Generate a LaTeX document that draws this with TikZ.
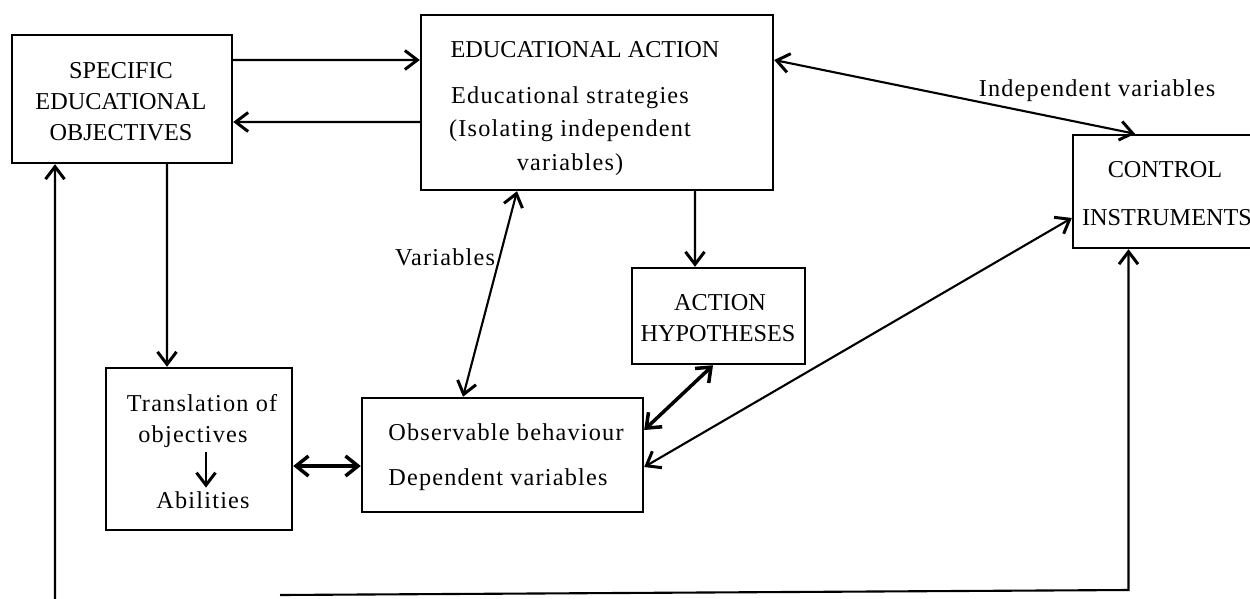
\documentclass[tikz,border=0pt]{standalone}
\usepackage{fontspec}
\setmainfont{Liberation Serif}
\newfontfamily\spaced{Liberation Serif}[LetterSpace=5]
\usetikzlibrary{arrows.meta}
\begin{document}
\begin{tikzpicture}[x=0.02cm,y=-0.02cm,
  font=\fontsize{13.8}{17.6}\selectfont,
  box/.style={draw,line width=1.4pt,rectangle,inner sep=0pt},
  lbl/.style={inner sep=0pt},
  lc/.style={lbl,font=\fontsize{13.8}{17.6}\spaced},
  conn/.style={line width=1.2pt,>={Straight Barb[length=2.5mm,width=3.8mm,line width=1.7pt]}},
  thick conn/.style={line width=2pt,>={Straight Barb[length=2.5mm,width=4mm,line width=2pt]}}]
\clip (0,0) rectangle (1250,598);
\fill[white] (0,0) rectangle (1250,598);

% boxes
\node[box,minimum width=4.4cm,minimum height=2.56cm] (seo) at (122,99) {};
\node[box,minimum width=7.04cm,minimum height=3.5cm] (ea) at (597,102.5) {};
\node[box,minimum width=4.34cm,minimum height=2.26cm] (ctl) at (1181.5,191.5) {};
\node[box,minimum width=3.72cm,minimum height=3.24cm] (trans) at (199,449) {};
\node[box,minimum width=5.62cm,minimum height=2.28cm] (obs) at (502.5,455) {};
\node[box,minimum width=3.46cm,minimum height=1.92cm] (ah) at (718.5,316) {};

% box texts
\node[lbl,align=center] (seoT) at (121,102) {SPECIFIC\\EDUCATIONAL\\OBJECTIVES};
\node[lbl] (eaT) at (585,50) {EDUCATIONAL ACTION};
\node[lc,align=center,font=\fontsize{13.8}{19}\spaced] (eaS) at (570,131) {Educational strategies\\(Isolating independent\\variables)};
\node[lbl] (ctlA) at (1165,170) {CONTROL};
\node[lbl] (ctlB) at (1167,218) {INSTRUMENTS};
\node[lc] (tA) at (202,403) {Translation of};
\node[lc] (tObj) at (193,437) {objectives};
\node[lc] (tAb) at (203,500) {Abilities};
\node[lbl] (ahA) at (720,303) {ACTION};
\node[lbl] (ahB) at (718,334) {HYPOTHESES};
\node[lc,anchor=west] (obsA) at (388,432) {Observable behaviour};
\node[lc,anchor=west] (obsB) at (388,480) {Dependent variables};

% free ends of the loop at the bottom
\coordinate (b0) at (55,605);
\coordinate (b1) at (280,595);
\coordinate (b2) at (1128.5,590);

% connectors
\draw[conn,->] ([yshift=0.78cm]seo.east) -- ([yshift=0.85cm]ea.west);
\draw[conn,->] ([yshift=-0.39cm]ea.west) -- ([yshift=-0.46cm]seo.east);
\draw[conn,<->] ([yshift=0.85cm]ea.east) -- ([xshift=-0.93cm]ctl.north);
\node[lc] (indep) at (1097,91) {Independent variables};
\draw[conn,->] ([xshift=0.9cm]seo.south) -- ([xshift=-0.64cm]trans.north);
\draw[thick conn,<->] ([yshift=-0.34cm]trans.east) -- ([yshift=-0.22cm]obs.west);
\draw[conn,<->] ([xshift=-1.6cm]ea.south) -- ([xshift=-0.79cm]obs.north);
\node[lc] (varl) at (445,257) {Variables};
\draw[conn,->] ([xshift=1.96cm]ea.south) -- ([xshift=-0.47cm]ah.north);
\draw[thick conn,<->] ([xshift=-0.11cm]ah.south) -- ([yshift=0.5cm]obs.east);
\draw[conn,<->] ([yshift=-0.24cm]obs.east) -- ([yshift=-0.53cm]ctl.west);
\draw[conn,->] ([xshift=0.06cm,yshift=-2pt]tObj.south -| tAb.north) -- ([xshift=0.06cm,yshift=2pt]tAb.north);
\draw[conn,->] (b1) -- (b2) -- ([xshift=-1.06cm]ctl.south);
\draw[conn,->] (b0) -- ([xshift=-1.34cm]seo.south);
\end{tikzpicture}
\end{document}
